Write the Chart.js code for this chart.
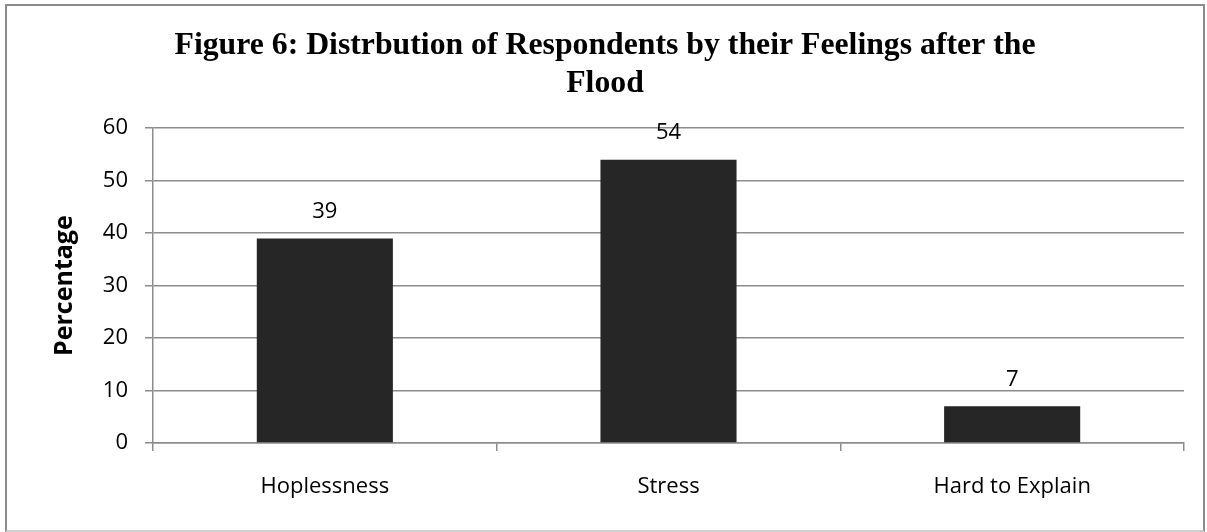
<!DOCTYPE html>
<html>
<head>
<meta charset="utf-8">
<script src="https://cdn.jsdelivr.net/npm/chart.js@4"></script>
<style>
  html, body { margin: 0; padding: 0; background: #fff; }
  #frame {
    position: absolute; left: 5px; top: 4px;
    width: 1196px; height: 524px;
    border: 2px solid #8c8c8c;
    border-bottom-color: #d0d0d0;
  }
  canvas { display: block; }
</style>
</head>
<body>
<div id="frame"><canvas id="chart" width="1196" height="524"></canvas></div>
<script>
const titleLines = ["Figure 6: Distrbution of Respondents by their Feelings after the", "Flood"];
const yTitle = "Percentage";
const categories = ["Hoplessness", "Stress", "Hard to Explain"];
const values = [39, 54, 7];
const yMin = 0;
const yMax = 60;
const yStep = 10;

const tickFont = { family: "Open Sans", size: 22 };
const gridColor = "#8c8c8c";

// draws the number above each bar
const barLabels = {
  id: "barLabels",
  afterDatasetsDraw(chart) {
    const ctx = chart.ctx;
    const meta = chart.getDatasetMeta(0);
    ctx.save();
    ctx.font = `${tickFont.size}px ${tickFont.family}`;
    ctx.fillStyle = "#000";
    ctx.textAlign = "center";
    ctx.textBaseline = "middle";
    meta.data.forEach((bar, i) => {
      ctx.fillText(String(values[i]), bar.x, bar.y - 27);
    });
    ctx.restore();
  },
};

new Chart(document.getElementById("chart").getContext("2d"), {
  type: "bar",
  data: {
    labels: categories,
    datasets: [{
      data: values,
      backgroundColor: "#262626",
      borderWidth: 0,
      categoryPercentage: 1,
      barPercentage: 0.396,
    }],
  },
  options: {
    responsive: false,
    animation: false,
    layout: { padding: { left: 19, right: 19, top: 0, bottom: 0 } },
    plugins: {
      legend: { display: false },
      tooltip: { enabled: false },
      title: {
        display: true,
        text: titleLines,
        color: "#000",
        font: { family: "Liberation Serif", size: 31.75, weight: "bold", lineHeight: 1.2 },
        padding: { top: 21, bottom: 25 },
      },
    },
    scales: {
      x: {
        afterFit: (s) => { s.height = 87; },
        grid: { offset: true, drawOnChartArea: false, color: gridColor, tickLength: 8, lineWidth: 1.5 },
        border: { color: gridColor, width: 1.5 },
        ticks: { color: "#000", font: tickFont, padding: 23, maxRotation: 0 },
      },
      y: {
        min: yMin,
        max: yMax,
        afterFit: (s) => { s.width = 127; },
        grid: { color: gridColor, tickLength: 8, lineWidth: 1.5 },
        border: { color: gridColor, width: 1.5 },
        ticks: { stepSize: yStep, color: "#000", font: tickFont, padding: 17 },
        title: {
          display: true,
          text: yTitle,
          color: "#000",
          font: { family: "Open Sans", size: 25, weight: "bold", lineHeight: 1.2 },
          padding: { top: 24, bottom: 0 },
        },
      },
    },
  },
  plugins: [barLabels],
});
</script>
</body>
</html>
